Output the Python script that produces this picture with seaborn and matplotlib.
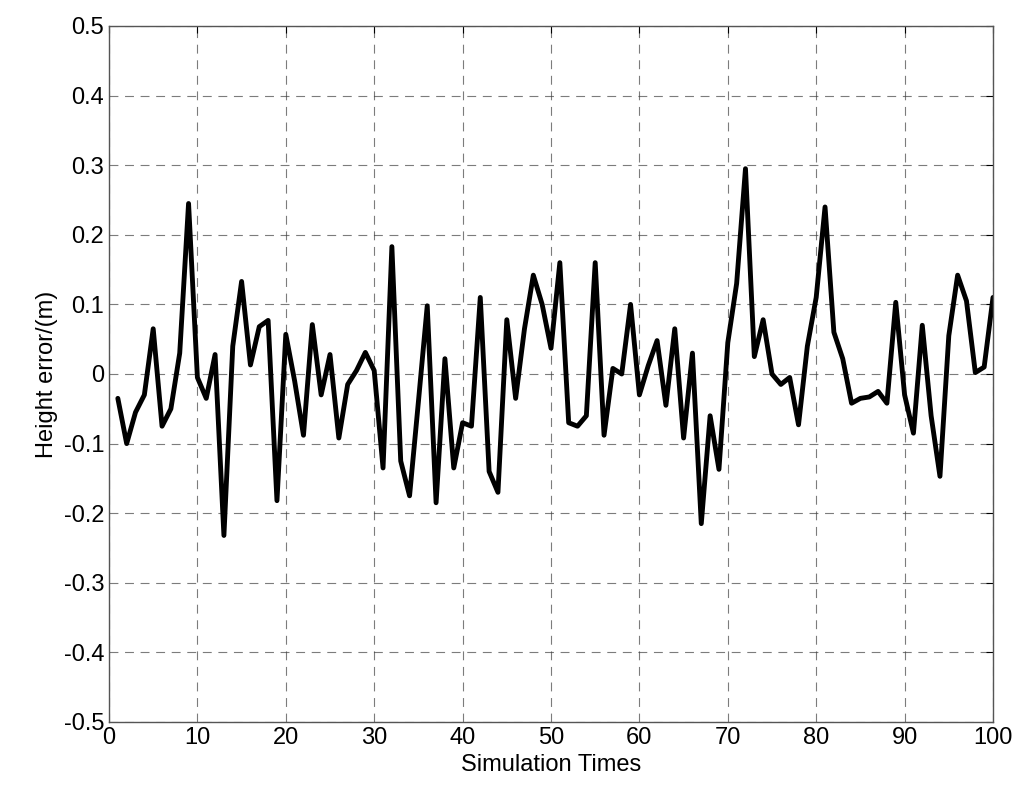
import matplotlib
matplotlib.use("Agg")
import matplotlib.pyplot as plt
import seaborn as sns
import numpy as np

sim_times = list(range(1, 101))
height_error = [
    -0.035, -0.10, -0.055, -0.03, 0.065, -0.075, -0.05, 0.03, 0.245, -0.005,
    -0.035, 0.028, -0.232, 0.04, 0.133, 0.013, 0.068, 0.077, -0.182, 0.057,
    -0.01, -0.088, 0.071, -0.03, 0.028, -0.092, -0.015, 0.005, 0.031, 0.005,
    -0.135, 0.183, -0.125, -0.175, -0.04, 0.098, -0.185, 0.022, -0.135, -0.07,
    -0.075, 0.11, -0.14, -0.17, 0.078, -0.035, 0.065, 0.142, 0.10, 0.037,
    0.16, -0.07, -0.075, -0.06, 0.16, -0.088, 0.008, 0.0, 0.10, -0.03,
    0.012, 0.048, -0.045, 0.065, -0.092, 0.03, -0.215, -0.06, -0.137, 0.045,
    0.13, 0.295, 0.025, 0.078, 0.0, -0.015, -0.005, -0.073, 0.04, 0.11,
    0.24, 0.06, 0.022, -0.042, -0.035, -0.033, -0.025, -0.042, 0.103, -0.03,
    -0.085, 0.07, -0.06, -0.147, 0.055, 0.142, 0.105, 0.002, 0.01, 0.11,
]

sns.set_style("white")
plt.rcParams['font.family'] = ['Liberation Sans', 'DejaVu Sans']
fig = plt.figure(figsize=(10.24, 7.99), dpi=100)
ax = fig.add_axes([109/1024, 1-722/799, (993-109)/1024, (722-26)/799])
sns.lineplot(x=sim_times, y=height_error, ax=ax, color='black', linewidth=3.5)
ax.set_xlim(0, 100)
ax.set_ylim(-0.5, 0.5)
ax.set_xticks(np.arange(0, 101, 10))
ax.set_yticks(np.round(np.arange(-0.5, 0.51, 0.1), 1))
ax.set_yticklabels(['-0.5','-0.4','-0.3','-0.2','-0.1','0','0.1','0.2','0.3','0.4','0.5'])
ax.grid(True, color='#444444', linestyle=(0, (8, 6)), linewidth=0.8, alpha=0.7)
for s in ax.spines.values():
    s.set_color('#555555'); s.set_linewidth(1)
ax.tick_params(labelsize=17, direction='in', length=5, top=True, right=True, colors='black')
ax.set_xlabel('Simulation Times', fontsize=17, color='black')
ax.set_ylabel('Height error/(m)', fontsize=17, color='black')
fig.savefig('out.png', dpi=100, facecolor='white')
